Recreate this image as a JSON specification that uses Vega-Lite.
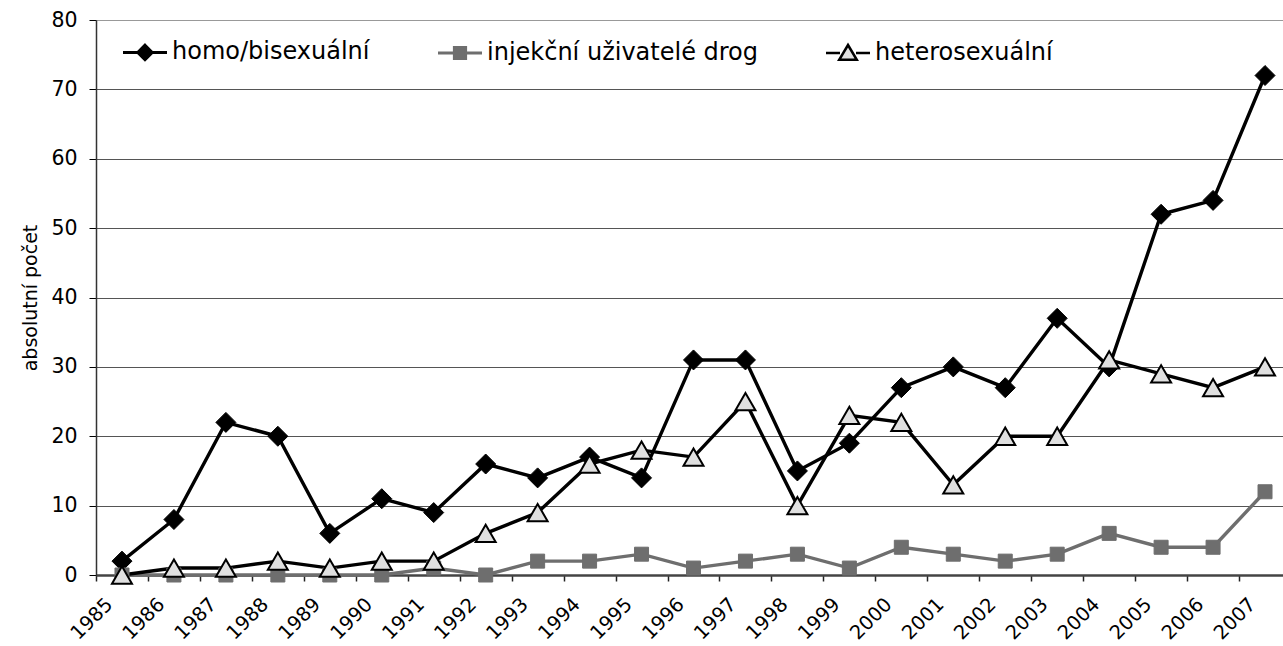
{
  "$schema": "https://vega.github.io/schema/vega-lite/v6.json",
  "autosize": "none",
  "padding": {"left": 96, "top": 20, "right": 0, "bottom": 71},
  "width": 1195,
  "height": 555,
  "config": {
    "font": "DejaVu Sans",
    "view": {"stroke": "#999", "strokeWidth": 1},
    "background": "white"
  },
  "data": {
    "values": [
      {"year": "1985", "series": "homo/bisexuální", "value": 2},
      {"year": "1986", "series": "homo/bisexuální", "value": 8},
      {"year": "1987", "series": "homo/bisexuální", "value": 22},
      {"year": "1988", "series": "homo/bisexuální", "value": 20},
      {"year": "1989", "series": "homo/bisexuální", "value": 6},
      {"year": "1990", "series": "homo/bisexuální", "value": 11},
      {"year": "1991", "series": "homo/bisexuální", "value": 9},
      {"year": "1992", "series": "homo/bisexuální", "value": 16},
      {"year": "1993", "series": "homo/bisexuální", "value": 14},
      {"year": "1994", "series": "homo/bisexuální", "value": 17},
      {"year": "1995", "series": "homo/bisexuální", "value": 14},
      {"year": "1996", "series": "homo/bisexuální", "value": 31},
      {"year": "1997", "series": "homo/bisexuální", "value": 31},
      {"year": "1998", "series": "homo/bisexuální", "value": 15},
      {"year": "1999", "series": "homo/bisexuální", "value": 19},
      {"year": "2000", "series": "homo/bisexuální", "value": 27},
      {"year": "2001", "series": "homo/bisexuální", "value": 30},
      {"year": "2002", "series": "homo/bisexuální", "value": 27},
      {"year": "2003", "series": "homo/bisexuální", "value": 37},
      {"year": "2004", "series": "homo/bisexuální", "value": 30},
      {"year": "2005", "series": "homo/bisexuální", "value": 52},
      {"year": "2006", "series": "homo/bisexuální", "value": 54},
      {"year": "2007", "series": "homo/bisexuální", "value": 72},
      {"year": "1985", "series": "injekční uživatelé drog", "value": 0},
      {"year": "1986", "series": "injekční uživatelé drog", "value": 0},
      {"year": "1987", "series": "injekční uživatelé drog", "value": 0},
      {"year": "1988", "series": "injekční uživatelé drog", "value": 0},
      {"year": "1989", "series": "injekční uživatelé drog", "value": 0},
      {"year": "1990", "series": "injekční uživatelé drog", "value": 0},
      {"year": "1991", "series": "injekční uživatelé drog", "value": 1},
      {"year": "1992", "series": "injekční uživatelé drog", "value": 0},
      {"year": "1993", "series": "injekční uživatelé drog", "value": 2},
      {"year": "1994", "series": "injekční uživatelé drog", "value": 2},
      {"year": "1995", "series": "injekční uživatelé drog", "value": 3},
      {"year": "1996", "series": "injekční uživatelé drog", "value": 1},
      {"year": "1997", "series": "injekční uživatelé drog", "value": 2},
      {"year": "1998", "series": "injekční uživatelé drog", "value": 3},
      {"year": "1999", "series": "injekční uživatelé drog", "value": 1},
      {"year": "2000", "series": "injekční uživatelé drog", "value": 4},
      {"year": "2001", "series": "injekční uživatelé drog", "value": 3},
      {"year": "2002", "series": "injekční uživatelé drog", "value": 2},
      {"year": "2003", "series": "injekční uživatelé drog", "value": 3},
      {"year": "2004", "series": "injekční uživatelé drog", "value": 6},
      {"year": "2005", "series": "injekční uživatelé drog", "value": 4},
      {"year": "2006", "series": "injekční uživatelé drog", "value": 4},
      {"year": "2007", "series": "injekční uživatelé drog", "value": 12},
      {"year": "1985", "series": "heterosexuální", "value": 0},
      {"year": "1986", "series": "heterosexuální", "value": 1},
      {"year": "1987", "series": "heterosexuální", "value": 1},
      {"year": "1988", "series": "heterosexuální", "value": 2},
      {"year": "1989", "series": "heterosexuální", "value": 1},
      {"year": "1990", "series": "heterosexuální", "value": 2},
      {"year": "1991", "series": "heterosexuální", "value": 2},
      {"year": "1992", "series": "heterosexuální", "value": 6},
      {"year": "1993", "series": "heterosexuální", "value": 9},
      {"year": "1994", "series": "heterosexuální", "value": 16},
      {"year": "1995", "series": "heterosexuální", "value": 18},
      {"year": "1996", "series": "heterosexuální", "value": 17},
      {"year": "1997", "series": "heterosexuální", "value": 25},
      {"year": "1998", "series": "heterosexuální", "value": 10},
      {"year": "1999", "series": "heterosexuální", "value": 23},
      {"year": "2000", "series": "heterosexuální", "value": 22},
      {"year": "2001", "series": "heterosexuální", "value": 13},
      {"year": "2002", "series": "heterosexuální", "value": 20},
      {"year": "2003", "series": "heterosexuální", "value": 20},
      {"year": "2004", "series": "heterosexuální", "value": 31},
      {"year": "2005", "series": "heterosexuální", "value": 29},
      {"year": "2006", "series": "heterosexuální", "value": 27},
      {"year": "2007", "series": "heterosexuální", "value": 30}
    ]
  },
  "encoding": {
    "x": {
      "field": "year",
      "type": "ordinal",
      "sort": null,
      "scale": {"type": "band", "paddingInner": 0, "paddingOuter": 0},
      "axis": {
        "title": null,
        "tickBand": "extent",
        "grid": false,
        "domainColor": "#444",
        "domainWidth": 2.5,
        "tickColor": "#222",
        "tickWidth": 1.5,
        "tickSize": 6,
        "labelAngle": -45,
        "labelAlign": "right",
        "labelBaseline": "middle",
        "labelOffset": -13,
        "labelPadding": 20,
        "labelFontSize": 19.5,
        "labelColor": "#000",
        "labelOverlap": false
      }
    },
    "y": {
      "field": "value",
      "type": "quantitative",
      "scale": {"domain": [0, 80], "nice": false},
      "axis": {
        "title": "absolutní počet",
        "values": [0, 10, 20, 30, 40, 50, 60, 70, 80],
        "grid": true,
        "gridColor": {"condition": {"test": "datum.value === 80", "value": "#999"}, "value": "#555"},
        "gridWidth": 1,
        "domainColor": "#333",
        "domainWidth": 1.5,
        "tickColor": "#000",
        "tickSize": 7,
        "labelPadding": 12,
        "labelFontSize": 20.5,
        "labelColor": "#000",
        "titleFontSize": 19,
        "titleFontWeight": "normal",
        "titleColor": "#000",
        "titleAngle": -90,
        "titleAlign": "center",
        "titleBaseline": "middle",
        "titleX": -66,
        "titleY": 277.5
      }
    }
  },
  "layer": [
    {
      "mark": {"type": "line", "strokeWidth": 3.4},
      "encoding": {
        "color": {
          "field": "series",
          "type": "nominal",
          "scale": {"domain": ["homo/bisexuální", "injekční uživatelé drog", "heterosexuální"], "range": ["#000000", "#6e6e6e", "#000000"]},
          "legend": {
            "title": null,
            "orient": "none",
            "direction": "horizontal",
            "legendX": 37,
            "legendY": 20,
            "padding": 0,
            "symbolSize": 256,
            "labelOffset": 15,
            "columnPadding": 62,
            "labelFontSize": 24,
            "labelColor": "#000",
            "labelLimit": 400,
            "encode": {
              "symbols": {
                "update": {
                  "shape": {"signal": "datum.value === 'homo/bisexuální' ? 'M-2.75,0H-0.8M0.8,0H2.75M0,-0.9L0.9,0L0,0.9L-0.9,0Z' : datum.value === 'heterosexuální' ? 'M-2.75,0H-1M1,0H2.75M0,-1L1.1,0.85H-1.1Z' : 'M-2.75,0H-0.7M0.7,0H2.75M-0.7,-0.7H0.7V0.7H-0.7Z'"},
                  "fill": {"signal": "datum.value === 'homo/bisexuální' ? '#000000' : datum.value === 'heterosexuální' ? '#e0e0e0' : '#6e6e6e'"},
                  "stroke": {"signal": "datum.value === 'injekční uživatelé drog' ? '#6e6e6e' : '#000000'"},
                  "strokeWidth": {"signal": "datum.value === 'heterosexuální' ? 2.5 : 3"},
                  "size": {"value": 256},
                  "opacity": {"value": 1},
                  "fillOpacity": {"value": 1},
                  "strokeOpacity": {"value": 1}
                }
              }
            }
          }
        },
        "detail": {"field": "series"}
      }
    },
    {
      "transform": [{"filter": "datum.series === 'homo/bisexuální'"}],
      "mark": {"type": "point", "shape": "diamond", "filled": true, "size": 400, "fill": "#000000", "stroke": "#000000", "strokeWidth": 1, "opacity": 1}
    },
    {
      "transform": [{"filter": "datum.series === 'injekční uživatelé drog'"}],
      "mark": {"type": "point", "shape": "square", "filled": true, "size": 196, "fill": "#6e6e6e", "stroke": "#6e6e6e", "strokeWidth": 1, "opacity": 1}
    },
    {
      "transform": [{"filter": "datum.series === 'heterosexuální'"}],
      "mark": {"type": "point", "shape": "triangle-up", "filled": true, "size": 400, "fill": "#e0e0e0", "stroke": "#000000", "strokeWidth": 2, "opacity": 1}
    }
  ]
}
